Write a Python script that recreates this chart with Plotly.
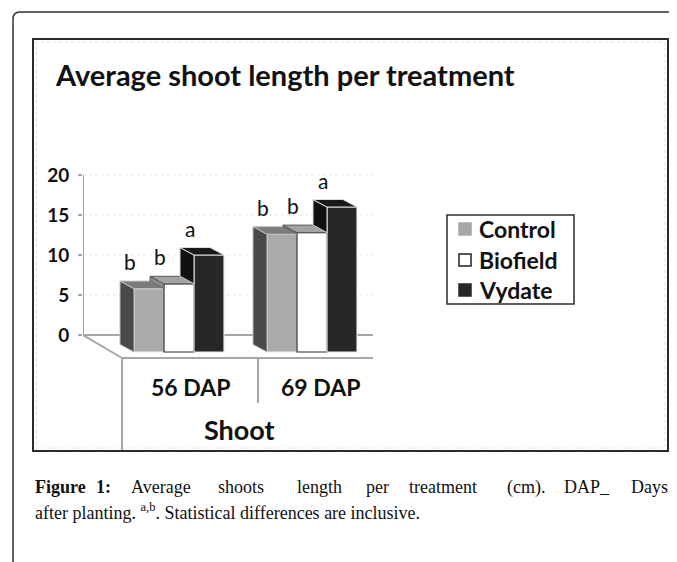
import plotly.graph_objects as go

# ---------------- data ----------------
categories = ["56 DAP", "69 DAP"]
series_names = ["Control", "Biofield", "Vydate"]
control = [5.8, 12.6]
biofield = [6.4, 12.8]
vydate = [10.0, 16.0]
letters_control = ["b", "b"]
letters_biofield = ["b", "b"]
letters_vydate = ["a", "a"]
y_ticks = [0, 5, 10, 15, 20]
group_title = "Shoot"
chart_title = "Average shoot length per treatment"

series_values = [control, biofield, vydate]
series_letters = [letters_control, letters_biofield, letters_vydate]

# ---------------- style / geometry ----------------
OFF = 8                          # default page margin of the html body
W, H = 677 - OFF, 562 - OFF
PX_L, PX_R, PY_T, PY_B = 83, 373, 160, 451       # plot area in page pixels
Y0_PX, Y_PX_PER_UNIT = 335, 8.0                   # back-wall zero and scale
X0_PX, X_PX_PER_UNIT = 179, 133.0                 # first category centre and scale

y_range = [-(PY_B - Y0_PX) / Y_PX_PER_UNIT, (Y0_PX - PY_T) / Y_PX_PER_UNIT]
x_range = [(PX_L - X0_PX) / X_PX_PER_UNIT, (PX_R - X0_PX) / X_PX_PER_UNIT]

BW = 30 / X_PX_PER_UNIT        # bar width in category units
DX = 14 / X_PX_PER_UNIT        # 3-D depth shift (to the left)
DY = 7.5 / Y_PX_PER_UNIT       # 3-D depth shift (upwards)
BASE = -17 / Y_PX_PER_UNIT     # bar front base (floor front)
FLOOR_DX = 39 / X_PX_PER_UNIT
FLOOR_FRONT = -23 / Y_PX_PER_UNIT
MID_DIVIDER = (258 - X0_PX) / X_PX_PER_UNIT
MID_DIV_BOTTOM = -(403 - Y0_PX) / Y_PX_PER_UNIT

front_colors = ["#aaaaaa", "#ffffff", "#272727"]
front_lines = ["#f2f2f2", "#2a2a2a", "#e8e8e8"]
top_colors = ["#7b7b7b", "#a3a3a3", "#1a1a1a"]
side_colors = ["#4a4a4a", "#8a8a8a", "#111111"]
face_edge = ["#bdbdbd", "#5a5a5a", "#dcdcdc"]
floor_color = "#a6a6a6"

FONT_SANS = "Lato, 'Open Sans', sans-serif"
FONT_SERIF = "'Liberation Serif', 'DejaVu Serif', serif"


def fx(px):
    return (px - OFF) / W


def fy(py):
    return 1 - (py - OFF) / H


fig = go.Figure()

# ----- front faces of the bars -----
for k, (name, vals) in enumerate(zip(series_names, series_values)):
    xs = [g + (k - 1) * BW for g in range(len(categories))]
    fig.add_trace(go.Bar(
        x=xs, y=[v - BASE for v in vals], base=BASE, width=BW, name=name,
        marker=dict(color=front_colors[k], line=dict(color=front_lines[k], width=1.2)),
        showlegend=False, hoverinfo="skip"))

# ----- side and top faces (computed from the values) -----
for g in range(len(categories)):
    for k in range(len(series_names)):
        v = series_values[k][g]
        x0 = g + (k - 1.5) * BW
        x1 = x0 + BW
        lower = BASE if k == 0 else min(series_values[k - 1][g], v)
        fig.add_trace(go.Scatter(
            x=[x0, x0, x0 - DX, x0 - DX, x0],
            y=[lower, v, v + DY, lower + DY, lower],
            fill="toself", fillcolor=side_colors[k], mode="lines",
            line=dict(color=face_edge[k], width=1), showlegend=False, hoverinfo="skip"))
        fig.add_trace(go.Scatter(
            x=[x0, x1, x1 - DX, x0 - DX, x0],
            y=[v, v, v + DY, v + DY, v],
            fill="toself", fillcolor=top_colors[k], mode="lines",
            line=dict(color=face_edge[k], width=1), showlegend=False, hoverinfo="skip"))

shapes = []
for t in y_ticks[1:]:
    shapes.append(dict(type="line", xref="x", yref="y", x0=x_range[0], x1=x_range[1], y0=t, y1=t,
                       line=dict(color="#e6e6e6", width=1, dash="dot"), layer="below"))
shapes.append(dict(type="line", xref="x", yref="y", x0=x_range[0], x1=x_range[0],
                   y0=y_ticks[0], y1=y_ticks[-1], line=dict(color=floor_color, width=2), layer="below"))
shapes += [
    dict(type="line", xref="x", yref="y", x0=x_range[0], x1=x_range[1], y0=0, y1=0,
         line=dict(color=floor_color, width=2), layer="below"),
    dict(type="line", xref="x", yref="y", x0=x_range[0], x1=x_range[0] + FLOOR_DX, y0=0, y1=FLOOR_FRONT,
         line=dict(color=floor_color, width=2), layer="below"),
    dict(type="line", xref="x", yref="y", x0=x_range[0] + FLOOR_DX, x1=x_range[1], y0=FLOOR_FRONT, y1=FLOOR_FRONT,
         line=dict(color=floor_color, width=2), layer="below"),
    dict(type="line", xref="x", yref="y", x0=x_range[0] + FLOOR_DX, x1=x_range[0] + FLOOR_DX,
         y0=FLOOR_FRONT, y1=y_range[0], line=dict(color=floor_color, width=2), layer="below"),
    dict(type="line", xref="x", yref="y", x0=MID_DIVIDER, x1=MID_DIVIDER,
         y0=FLOOR_FRONT, y1=MID_DIV_BOTTOM, line=dict(color=floor_color, width=2), layer="below"),
]
shapes.append(dict(type="rect", xref="paper", yref="paper", x0=fx(33), x1=fx(668), y0=fy(451), y1=fy(39),
                   line=dict(color="#2b2b2b", width=2), layer="above"))
shapes.append(dict(type="rect", xref="paper", yref="paper", x0=fx(36), x1=fx(665), y0=fy(448), y1=fy(42),
                   line=dict(color="#e2e2e2", width=1, dash="dot"), layer="below"))
shapes.append(dict(type="path", xref="paper", yref="paper",
                   path=(f"M {fx(13)} {fy(562)} L {fx(13)} {fy(19)} "
                         f"Q {fx(13)} {fy(12)} {fx(20)} {fy(12)} L {fx(677)} {fy(12)}"),
                   line=dict(color="#333333", width=1.5)))
shapes.append(dict(type="rect", xref="paper", yref="paper", x0=fx(447), x1=fx(574), y0=fy(304), y1=fy(215),
                   line=dict(color="#2b2b2b", width=1.5)))
legend_rows = [229, 260, 290]
swatch_fill = ["#a6a6a6", "#ffffff", "#262626"]
swatch_line = ["#a6a6a6", "#222222", "#262626"]
for k, ry in enumerate(legend_rows):
    shapes.append(dict(type="rect", xref="paper", yref="paper", x0=fx(459), x1=fx(471),
                       y0=fy(ry + 6), y1=fy(ry - 6), fillcolor=swatch_fill[k],
                       line=dict(color=swatch_line[k], width=1.5)))

annotations = []
annotations.append(dict(text=chart_title, xref="paper", yref="paper", x=fx(53), y=fy(75),
                        xanchor="left", yanchor="middle", showarrow=False,
                        font=dict(family=FONT_SANS, size=29, color="#111111", weight="bold")))
for k, ry in enumerate(legend_rows):
    annotations.append(dict(text=series_names[k], xref="paper", yref="paper", x=fx(477), y=fy(ry),
                            xanchor="left", yanchor="middle", showarrow=False,
                            font=dict(family=FONT_SANS, size=23, color="#111111", weight="bold")))
for g in range(len(categories)):
    for k in range(len(series_names)):
        v = series_values[k][g]
        x0 = g + (k - 1.5) * BW
        annotations.append(dict(text=series_letters[k][g], xref="x", yref="y", x=x0 - 0.03, y=v,
                                yshift=27, xanchor="center", yanchor="middle", showarrow=False,
                                font=dict(family=FONT_SANS, size=21, color="#111111")))
cat_edges = [x_range[0] + FLOOR_DX, MID_DIVIDER, x_range[1]]
for i, c in enumerate(categories):
    annotations.append(dict(text=c, xref="x", yref="paper", x=(cat_edges[i] + cat_edges[i + 1]) / 2 + 0.04 * i,
                            y=fy(387), xanchor="center", yanchor="middle", showarrow=False,
                            font=dict(family=FONT_SANS, size=23, color="#111111", weight="bold")))
annotations.append(dict(text=group_title, xref="paper", yref="paper", x=fx(239), y=fy(430),
                        xanchor="center", yanchor="middle", showarrow=False,
                        font=dict(family=FONT_SANS, size=27, color="#111111", weight="bold")))

caption_words = [("<b>Figure</b>", 33), ("<b>1:</b>", 94), ("Average", 129), ("shoots", 216),
                 ("length", 295), ("per", 364), ("treatment", 407), ("(cm).", 505),
                 ("DAP_", 562), ("Days", 629)]
for wtxt, wx in caption_words:
    annotations.append(dict(text=wtxt, xref="paper", yref="paper", x=fx(wx), y=fy(487),
                            xanchor="left", yanchor="middle", showarrow=False,
                            font=dict(family=FONT_SERIF, size=18, color="#111111")))
annotations.append(dict(text="after planting. <sup>a,b</sup>. Statistical differences are inclusive.",
                        xref="paper", yref="paper", x=fx(33), y=fy(511),
                        xanchor="left", yanchor="middle", showarrow=False,
                        font=dict(family=FONT_SERIF, size=18, color="#111111")))

fig.update_layout(
    width=W, height=H,
    margin=dict(l=0, r=0, t=0, b=0, pad=0),
    paper_bgcolor="white", plot_bgcolor="white",
    barmode="overlay",
    showlegend=False,
    shapes=shapes,
    annotations=annotations,
    xaxis=dict(domain=[fx(PX_L), fx(PX_R)], range=x_range, showgrid=False, zeroline=False,
               showticklabels=False, ticks="", showline=False, fixedrange=True),
    yaxis=dict(domain=[fy(PY_B), fy(PY_T)], range=y_range, showgrid=False, zeroline=False,
               tickvals=y_ticks, ticktext=[str(t) for t in y_ticks], ticks="outside", ticklen=4,
               tickwidth=2, tickcolor=floor_color, showline=False, ticklabelstandoff=5,
               tickfont=dict(family=FONT_SANS, size=19, color="#111111", weight="bold"),
               fixedrange=True),
)

fig.write_html("out.html")
